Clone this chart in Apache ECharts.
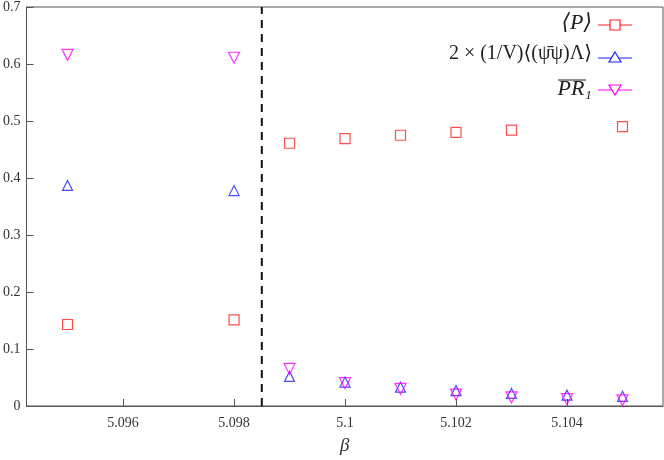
<!DOCTYPE html>
<html><head><meta charset="utf-8">
<script src="https://cdn.jsdelivr.net/npm/echarts@6/dist/echarts.min.js"></script>
<style>html,body{margin:0;padding:0;background:#fff}#c{width:664px;height:460px}</style>
</head><body><div id="c"></div>
<script>
const betas = [5.095, 5.098, 5.099, 5.100, 5.101, 5.102, 5.103, 5.105];
const plaq = [0.143, 0.151, 0.461, 0.469, 0.475, 0.480, 0.484, 0.490];
const pbpBetas = [5.095, 5.098, 5.099, 5.100, 5.101, 5.102, 5.103, 5.104, 5.105];
const pbp = [0.387, 0.378, 0.052, 0.042, 0.033, 0.027, 0.022, 0.019, 0.017];
const pr1 = [0.616, 0.611, 0.065, 0.040, 0.030, 0.020, 0.015, 0.012, 0.010];
const transition = 5.0985;
const xTicks = [5.096, 5.098, 5.1, 5.102, 5.104];

const F = 'Liberation Serif, DejaVu Serif, serif';
const zip = (a,b)=>a.map((v,i)=>[v,b[i]]);
const chart = echarts.init(document.getElementById('c'));
const mk = (name,data,symbol,color,rot)=>({
  name,type:'scatter',data,symbol,symbolSize:rot?11:10,symbolRotate:rot||0,z:3,
  itemStyle:{color:'rgba(0,0,0,0)',borderColor:color,borderWidth:1.2}
});
chart.setOption({
  animation:false,
  grid:{left:25,right:1,top:4,bottom:48,show:true,borderColor:'#555',borderWidth:1},
  xAxis:{type:'value',min:5.09426,max:5.10573,
    name:'β',nameLocation:'middle',nameGap:30,nameTextStyle:{fontFamily:F,fontSize:19,fontStyle:'italic',color:'#333'},
    axisLine:{lineStyle:{color:'#555'}},splitLine:{show:false},
    axisTick:{inside:true,length:7,lineStyle:{color:'#555'},customValues:xTicks},
    axisLabel:{fontFamily:F,fontSize:14,color:'#333',margin:10,customValues:xTicks,formatter:v=>String(+(+v).toFixed(3))}},
  yAxis:{type:'value',min:0,max:0.7,interval:0.1,
    axisLine:{lineStyle:{color:'#555'}},splitLine:{show:false},
    axisTick:{inside:true,length:7,lineStyle:{color:'#555'}},
    axisLabel:{fontFamily:F,fontSize:14,color:'#333',margin:6,formatter:v=>String(+v.toFixed(1))}},
  series:[
    {type:'line',data:[[transition,0],[transition,0.7]],symbol:'none',silent:true,z:2,
      lineStyle:{color:'#111',type:[8,6],width:2}},
    mk('P',zip(betas,plaq),'rect','#ff2020'),
    mk('pbp',zip(pbpBetas,pbp),'triangle','#1f1fff'),
    mk('pr1',zip(pbpBetas,pr1),'triangle','#ff00ff',180)
  ],
  graphic:[
    {type:'text',right:72,top:12,style:{text:'⟨P⟩',font:'italic 22px '+F,fill:'#222'}},
    {type:'text',right:72,top:44,style:{text:'2 × (1/V)⟨(ψ̄ψ)Λ⟩',font:'20px '+F,fill:'#222'}},
    {type:'text',right:72,top:78,style:{text:'PR₁',font:'italic 22px '+F,fill:'#222'}},
    {type:'line',shape:{x1:558,y1:80,x2:586,y2:80},style:{stroke:'#222',lineWidth:1}},
    {type:'line',shape:{x1:598,y1:25,x2:632,y2:25},style:{stroke:'#ff2020',lineWidth:1.2}},
    {type:'rect',shape:{x:610,y:20,width:10,height:10},style:{fill:'#fff',stroke:'#ff2020',lineWidth:1.2}},
    {type:'line',shape:{x1:598,y1:58,x2:632,y2:58},style:{stroke:'#1f1fff',lineWidth:1.2}},
    {type:'polygon',shape:{points:[[615,52],[621,62],[609,62]]},style:{fill:'#fff',stroke:'#1f1fff',lineWidth:1.2}},
    {type:'line',shape:{x1:598,y1:90,x2:632,y2:90},style:{stroke:'#ff00ff',lineWidth:1.2}},
    {type:'polygon',shape:{points:[[609,85],[621,85],[615,95]]},style:{fill:'#fff',stroke:'#ff00ff',lineWidth:1.2}}
  ]
});
</script></body></html>
